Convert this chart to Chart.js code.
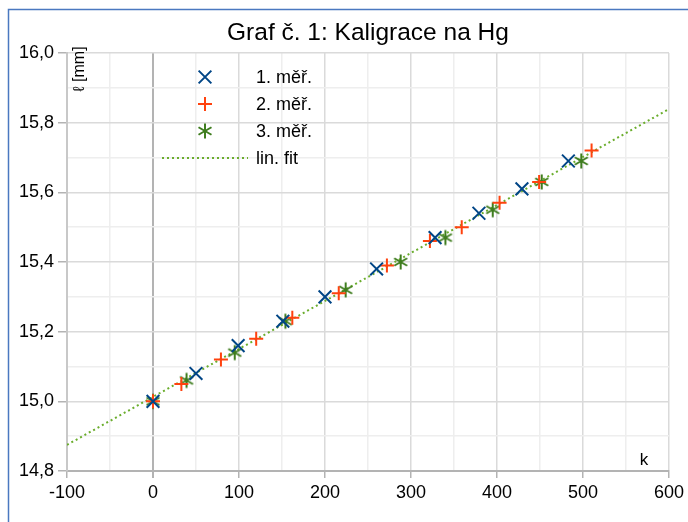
<!DOCTYPE html>
<html>
<head>
<meta charset="utf-8">
<script src="https://cdn.jsdelivr.net/npm/chart.js@4"></script>
<style>
  html, body { margin: 0; padding: 0; background: #fff; }
  #wrap { width: 688px; height: 522px; }
</style>
</head>
<body>
<div id="wrap"><canvas id="chart" width="688" height="522"></canvas></div>
<script>
const TITLE = "Graf č. 1: Kaligrace na Hg";
const Y_LABEL = "ℓ [mm]";
const X_LABEL = "k";
const SERIES_LABELS = ["1. měř.", "2. měř.", "3. měř.", "lin. fit"];

// 1. měření
const k1 = [0, 50, 99, 151, 200, 260, 328, 379, 429, 483];
const l1 = [15.00, 15.08, 15.16, 15.23, 15.30, 15.38, 15.47, 15.54, 15.61, 15.69];
// 2. měření
const k2 = [0, 33, 79, 120, 162, 216, 272, 322, 359, 403, 449, 510];
const l2 = [15.00, 15.05, 15.12, 15.18, 15.24, 15.31, 15.39, 15.46, 15.50, 15.57, 15.63, 15.72];
// 3. měření
const k3 = [0, 39, 95, 154, 224, 288, 340, 395, 452, 498];
const l3 = [15.00, 15.06, 15.14, 15.23, 15.32, 15.40, 15.47, 15.55, 15.63, 15.69];
// lineární fit (koncové body)
const kFit = [-100, 600];
const lFit = [14.875, 15.839];

const COLORS = { s1: "#004586", s2: "#ff420e", s3: "#3f7d1f", fit: "#6aad2c" };
const FONT = '"Liberation Sans", Arial, sans-serif';

const toPoints = (ks, ls) => ks.map((k, i) => ({ x: k, y: ls[i] }));

// six-ray asterisk, like the office-suite marker
function makeAsterisk(color) {
  const size = 18, c = size / 2, r = 7.5;
  const cv = document.createElement("canvas");
  cv.width = size; cv.height = size;
  const g = cv.getContext("2d");
  g.strokeStyle = color;
  g.lineWidth = 2;
  [90, 30, 150].forEach(a => {
    const rad = a * Math.PI / 180;
    g.beginPath();
    g.moveTo(c - Math.cos(rad) * r, c - Math.sin(rad) * r);
    g.lineTo(c + Math.cos(rad) * r, c + Math.sin(rad) * r);
    g.stroke();
  });
  return cv;
}

const markerSets = [
  { data: toPoints(k1, l1), color: COLORS.s1, style: "crossRot", radius: 9 },
  { data: toPoints(k2, l2), color: COLORS.s2, style: "cross", radius: 7 },
  { data: toPoints(k3, l3), color: COLORS.s3, style: makeAsterisk(COLORS.s3), radius: 8 },
];

const datasets = markerSets.map((s, i) => ({
  label: SERIES_LABELS[i],
  type: "scatter",
  data: s.data,
  pointStyle: s.style,
  pointRadius: s.radius,
  pointHoverRadius: s.radius,
  pointBorderWidth: 2,
  borderColor: s.color,
  backgroundColor: s.color,
  order: 1,
}));

datasets.push({
  label: SERIES_LABELS[3],
  type: "line",
  data: toPoints(kFit, lFit),
  borderColor: COLORS.fit,
  borderWidth: 2,
  borderDash: [2, 3],
  pointRadius: 0,
  fill: false,
  order: 2,
});

const isMajorY = v => Math.round(v * 10) % 2 === 0;
const isMajorX = v => Math.round(v) % 100 === 0;

const decor = {
  id: "decor",
  afterDraw(chart) {
    const { ctx, chartArea } = chart;
    ctx.save();

    // blue frame on top and left
    ctx.strokeStyle = "#4a78c0";
    ctx.lineWidth = 1.5;
    ctx.beginPath();
    ctx.moveTo(8.5, 522);
    ctx.lineTo(8.5, 9.5);
    ctx.lineTo(688, 9.5);
    ctx.stroke();

    // title
    ctx.fillStyle = "#000";
    ctx.textAlign = "center";
    ctx.textBaseline = "middle";
    ctx.font = "24.5px " + FONT;
    ctx.fillText(TITLE, (chartArea.left + chartArea.right) / 2, 33);

    // axis titles
    ctx.font = "16px " + FONT;
    ctx.save();
    ctx.translate(80, 69);
    ctx.rotate(-Math.PI / 2);
    ctx.fillText(Y_LABEL, 0, 0);
    ctx.restore();
    ctx.font = "17px " + FONT;
    ctx.fillText(X_LABEL, 644, 460);

    // legend
    ctx.textAlign = "left";
    ctx.font = "18px " + FONT;
    const rows = [77, 104, 131, 158];
    markerSets.forEach((s, i) => {
      ctx.strokeStyle = s.color;
      ctx.fillStyle = s.color;
      ctx.lineWidth = 2;
      Chart.helpers.drawPoint(ctx, { pointStyle: s.style, radius: s.radius, rotation: 0, borderWidth: 2 }, 205, rows[i]);
      ctx.fillStyle = "#000";
      ctx.fillText(SERIES_LABELS[i], 256, rows[i] + 1);
    });
    ctx.strokeStyle = COLORS.fit;
    ctx.lineWidth = 2;
    ctx.setLineDash([2, 3]);
    ctx.beginPath();
    ctx.moveTo(162, rows[3]);
    ctx.lineTo(248, rows[3]);
    ctx.stroke();
    ctx.setLineDash([]);
    ctx.fillStyle = "#000";
    ctx.fillText(SERIES_LABELS[3], 256, rows[3] + 1);

    ctx.restore();
  },
};

new Chart(document.getElementById("chart"), {
  type: "scatter",
  data: { datasets },
  plugins: [decor],
  options: {
    responsive: false,
    devicePixelRatio: 1,
    animation: false,
    layout: { padding: { left: 0, right: 19, top: 53, bottom: 0 } },
    plugins: {
      legend: { display: false },
      title: { display: false },
      tooltip: { enabled: false },
    },
    scales: {
      x: {
        type: "linear",
        min: -100,
        max: 600,
        afterFit: s => { s.height = 51; },
        ticks: {
          stepSize: 50,
          autoSkip: false,
          maxRotation: 0,
          padding: 4,
          color: "#000",
          font: { family: FONT, size: 18 },
          callback: v => isMajorX(v) ? String(v) : "",
        },
        grid: {
          color: c => c.tick && c.tick.value === 0 ? "#b3b3b3" : (isMajorX(c.tick.value) ? "#dadada" : "#eeeeee"),
          lineWidth: c => c.tick && c.tick.value === 0 ? 2 : 1.5,
          tickColor: c => isMajorX(c.tick.value) ? "#b3b3b3" : "rgba(0,0,0,0)",
          tickLength: 7,
        },
        border: { color: "#b3b3b3", width: 2 },
      },
      y: {
        type: "linear",
        min: 14.8,
        max: 16.0,
        afterFit: s => { s.width = 67; },
        ticks: {
          stepSize: 0.1,
          autoSkip: false,
          padding: 4,
          color: "#000",
          font: { family: FONT, size: 18 },
          callback: v => isMajorY(v) ? v.toFixed(1).replace(".", ",") : "",
        },
        grid: {
          color: c => isMajorY(c.tick.value) ? "#dadada" : "#eeeeee",
          lineWidth: 1.5,
          tickColor: c => isMajorY(c.tick.value) ? "#b3b3b3" : "rgba(0,0,0,0)",
          tickLength: 9,
        },
        border: { color: "#c8c8c8", width: 2 },
      },
    },
  },
});
</script>
</body>
</html>
